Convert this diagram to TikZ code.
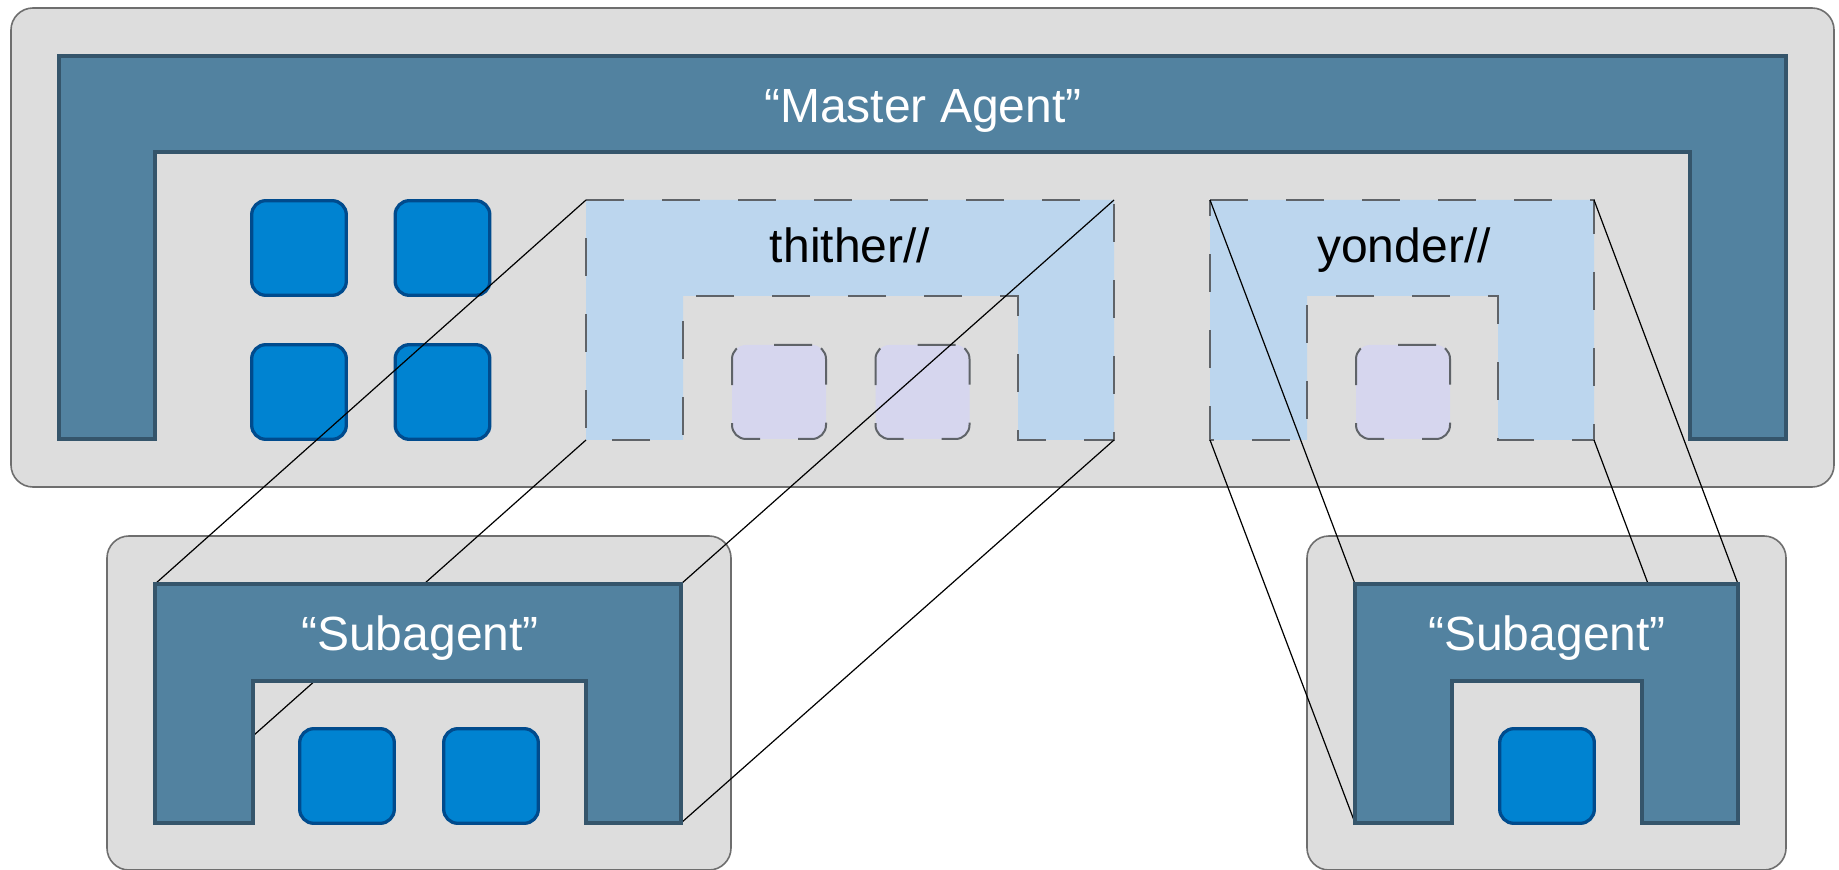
\documentclass[tikz,border=0pt]{standalone}
\usepackage{fontspec}
\setmainfont{Liberation Sans}
\definecolor{panelfill}{HTML}{DDDDDD}
\definecolor{panelline}{HTML}{6E6E6E}
\definecolor{agentfill}{HTML}{5282A0}
\definecolor{agentline}{HTML}{35556B}
\definecolor{modfill}{HTML}{0083D1}
\definecolor{modline}{HTML}{004B8D}
\definecolor{nsfill}{HTML}{BCD6EE}
\definecolor{nsline}{HTML}{5F6368}
\definecolor{instfill}{HTML}{D6D6EE}
\begin{document}
\begin{tikzpicture}[x=0.5pt,y=-0.5pt,
  panel/.style={fill=panelfill,draw=panelline,line width=0.8pt,rounded corners=11pt},
  agentu/.style={fill=agentfill,draw=agentline,line width=2pt},
  modsq/.style={rectangle,fill=modfill,draw=modline,line width=1.65pt,rounded corners=7pt,minimum size=47.3pt,inner sep=0pt},
  nsu/.style={fill=nsfill,draw=nsline,line width=1pt,dash pattern=on 19pt off 19pt},
  instsq/.style={rectangle,fill=instfill,draw=nsline,line width=1pt,dash pattern=on 19pt off 19pt,rounded corners=7pt,minimum size=47pt,inner sep=0pt},
  link/.style={draw=black,line width=0.6pt},
  lbl/.style={font=\fontsize{24}{28}\selectfont,anchor=base,inner sep=0pt}]
\useasboundingbox (0,0) rectangle (1839,870);

% ---- master agent panel
\draw[panel] (11,8) rectangle (1834,487);
\draw[agentu] (59,56) -- (1786,56) -- (1786,439) -- (1690,439) -- (1690,152)
  -- (155,152) -- (155,439) -- (59,439) -- cycle;
\node[lbl,text=white] (mastertitle) at (923,123) {“Master Agent”};

\node[modsq] (m1) at (299,248) {};
\node[modsq] (m2) at (442.5,248) {};
\node[modsq] (m3) at (299,392) {};
\node[modsq] (m4) at (442.5,392) {};

% thither//
\coordinate (tTL) at (586,200);
\coordinate (tTR) at (1114,200);
\coordinate (tBR) at (1114,440);
\coordinate (tBL) at (586,440);
\draw[nsu] (tTL) -- (tTR) -- (tBR) -- (1018,440) -- (1018,296) -- (683,296)
  -- (683,440) -- (tBL) -- cycle;
\node[lbl] (thither) at (850,263) {thither//};
\node[instsq] (i1) at (779,392) {};
\node[instsq] (i2) at (922.5,392) {};

% yonder//
\coordinate (yTL) at (1210,200);
\coordinate (yTR) at (1594,200);
\coordinate (yBR) at (1594,440);
\coordinate (yBL) at (1210,440);
\draw[nsu] (yTL) -- (yTR) -- (yBR) -- (1498,440) -- (1498,296) -- (1307,296)
  -- (1307,440) -- (yBL) -- cycle;
\node[lbl] (yonder) at (1404,263) {yonder//};
\node[instsq] (i3) at (1403,392) {};

% ---- subagent panels
\draw[panel] (107,536) rectangle (731,870);
\draw[panel] (1307,536) rectangle (1786,870);

\coordinate (sTL) at (155,584);
\coordinate (sTR) at (681,584);
\coordinate (sBR) at (681,823);
\coordinate (sBL) at (155,823);
\coordinate (rTL) at (1355,584);
\coordinate (rTR) at (1738,584);
\coordinate (rBR) at (1738,823);
\coordinate (rBL) at (1355,823);

% projection lines
\draw[link] (tTL) -- (sTL);
\draw[link] (tTR) -- (sTR);
\draw[link] (tBR) -- (sBR);
\draw[link] (tBL) -- (sBL);
\draw[link] (yTL) -- (rTL);
\draw[link] (yTR) -- (rTR);
\draw[link] (yBL) -- (rBL);
\draw[link] (yBR) -- (rBR);

% left subagent
\draw[agentu] (sTL) -- (sTR) -- (sBR) -- (586,823) -- (586,681) -- (253,681)
  -- (253,823) -- (sBL) -- cycle;
\node[lbl,text=white] (subleft) at (420,650) {“Subagent”};
\node[modsq] (s1) at (347,776) {};
\node[modsq] (s2) at (491,776) {};

% right subagent
\draw[agentu] (rTL) -- (rTR) -- (rBR) -- (1642,823) -- (1642,681) -- (1452,681)
  -- (1452,823) -- (rBL) -- cycle;
\node[lbl,text=white] (subright) at (1547,650) {“Subagent”};
\node[modsq] (s3) at (1547,776) {};
\end{tikzpicture}
\end{document}
